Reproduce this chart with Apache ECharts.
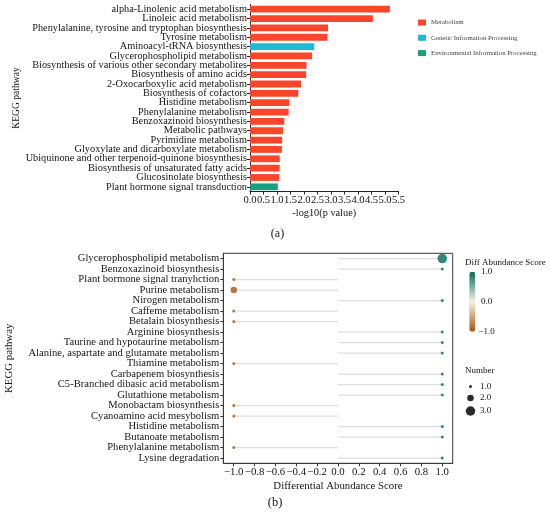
<!DOCTYPE html>
<html>
<head>
<meta charset="utf-8">
<style>
  html, body { margin: 0; padding: 0; background: #fff; }
  #main { width: 550px; height: 512px; }
</style>
<script src="https://cdn.jsdelivr.net/npm/echarts@6/dist/echarts.min.js"></script>
</head>
<body>
<div id="main"></div>
<script>
// ---- panel (a): KEGG enrichment bars
var pathwaysA = [
  'alpha-Linolenic acid metabolism',
  'Linoleic acid metabolism',
  'Phenylalanine, tyrosine and tryptophan biosynthesis',
  'Tyrosine metabolism',
  'Aminoacyl-tRNA biosynthesis',
  'Glycerophospholipid metabolism',
  'Biosynthesis of various other secondary metabolites',
  'Biosynthesis of amino acids',
  '2-Oxocarboxylic acid metabolism',
  'Biosynthesis of cofactors',
  'Histidine metabolism',
  'Phenylalanine metabolism',
  'Benzoxazinoid biosynthesis',
  'Metabolic pathways',
  'Pyrimidine metabolism',
  'Glyoxylate and dicarboxylate metabolism',
  'Ubiquinone and other terpenoid-quinone biosynthesis',
  'Biosynthesis of unsaturated fatty acids',
  'Glucosinolate biosynthesis',
  'Plant hormone signal transduction'
];
var logPA = [5.18, 4.55, 2.89, 2.87, 2.38, 2.30, 2.09, 2.08, 1.89, 1.79,
             1.45, 1.43, 1.27, 1.22, 1.19, 1.18, 1.10, 1.10, 1.08, 1.03];
var classA = [0, 0, 0, 0, 1, 0, 0, 0, 0, 0, 0, 0, 0, 0, 0, 0, 0, 0, 0, 2];
var classNames = ['Metabolism', 'Genetic Information Processing', 'Environmental Information Processing'];
var classColors = ['#f9462b', '#22b6d7', '#17a07f'];

// ---- panel (b): differential abundance lollipop
var pathwaysB = [
  'Glycerophospholipid metabolism',
  'Benzoxazinoid biosynthesis',
  'Plant bormone signal tranyhction',
  'Purine metabolism',
  'Nirogen metabolism',
  'Caffeme metabolism',
  'Betalain biosynthesis',
  'Arginine biosynthesis',
  'Taurine and hypotaurine metabolism',
  'Alanine, aspartate and glutamate metabolism',
  'Thiamine metabolism',
  'Carbapenem biosynthesis',
  'C5-Branched dibasic acid metabolism',
  'Glutathione metabolism',
  'Monobactam biosynthesis',
  'Cyanoamino acid mesybolism',
  'Histidine metabolism',
  'Butanoate metabolism',
  'Phenylalanine metabolism',
  'Lysine degradation'
];
var scoreB = [1, 1, -1, -1, 1, -1, -1, 1, 1, 1, -1, 1, 1, 1, -1, -1, 1, 1, -1, 1];
var numberB = [3, 1, 1, 2, 1, 1, 1, 1, 1, 1, 1, 1, 1, 1, 1, 1, 1, 1, 1, 1];
var ticksB = [-1.0, -0.8, -0.6, -0.4, -0.2, 0.0, 0.2, 0.4, 0.6, 0.8, 1.0];
var colorTicks = [1.0, 0.0, -1.0];
var numberTicks = [1.0, 2.0, 3.0];
var scoreColors = ['#a9560f', '#f7f2e2', '#04695d'];

var FONT = '"Liberation Serif", "DejaVu Serif", serif';
var INK = '#141414';

function dotSize(n) { return [0, 3, 6.5, 9.5][n]; }
function fmtMinus(v) { return v.toFixed(1).replace('-', '\u2212'); }

var chartDom = document.getElementById('main');
var myChart = echarts.init(chartDom, null, { renderer: 'canvas' });

// one stacked series per class so the legend gets its own entries
var barSeries = classNames.map(function (name, c) {
  return {
    name: name,
    type: 'bar',
    stack: 'kegg',
    xAxisIndex: 0,
    yAxisIndex: 0,
    barWidth: 6.8,
    itemStyle: { color: classColors[c] },
    data: logPA.map(function (v, i) { return classA[i] === c ? v : '-'; })
  };
});

// legend for panel (b), built from the tick arrays
var cbTop = 271.7, cbH = 60, cbLeft = 469.3;
var legendGraphics = [
  { type: 'text', left: 465, top: 258,
    style: { text: 'Diff Abundance Score', font: '9px ' + FONT, fill: INK } },
  { type: 'text', left: 465, top: 366.5,
    style: { text: 'Number', font: '9px ' + FONT, fill: INK } }
];
colorTicks.forEach(function (v) {
  var y = cbTop + (1 - v) / 2 * cbH;
  legendGraphics.push({ type: 'text', x: v < 0 ? 478.5 : 481, y: y,
    style: { text: fmtMinus(v), font: '9px ' + FONT, fill: INK, verticalAlign: 'middle' } });
  legendGraphics.push({ type: 'line', shape: { x1: 474, y1: y, x2: 475.5, y2: y },
    style: { stroke: '#fff', lineWidth: 0.8 } });
});
var numY = [386.5, 398, 411];
numberTicks.forEach(function (n, k) {
  legendGraphics.push({ type: 'circle', shape: { cx: 470.5, cy: numY[k], r: dotSize(n) / 2 },
    style: { fill: '#2b2b2b' } });
  legendGraphics.push({ type: 'text', x: 480, y: numY[k],
    style: { text: n.toFixed(1), font: '9px ' + FONT, fill: INK, verticalAlign: 'middle' } });
});
legendGraphics.push({ type: 'text', x: 277.5, y: 234,
  style: { text: '(a)', font: '12px ' + FONT, fill: INK, align: 'center', verticalAlign: 'middle' } });
legendGraphics.push({ type: 'text', x: 275, y: 502.5,
  style: { text: '(b)', font: '12.5px ' + FONT, fill: INK, align: 'center', verticalAlign: 'middle' } });

var option = {
  animation: false,
  textStyle: { fontFamily: FONT },
  grid: [
    { left: 250, top: 4.5, width: 148.5, height: 187 },
    { left: 223.3, top: 253.3, width: 229.4, height: 210,
      show: true, borderColor: '#3a3a3a', borderWidth: 1 }
  ],
  legend: {
    left: 418, top: 19, orient: 'vertical',
    padding: 0,
    itemWidth: 8, itemHeight: 6, itemGap: 8.3,
    icon: 'rect',
    data: classNames,
    textStyle: { fontSize: 6.8, color: '#444', fontFamily: FONT }
  },
  visualMap: {
    type: 'continuous',
    seriesIndex: 4,
    dimension: 0,
    min: -1, max: 1,
    left: cbLeft, top: cbTop,
    itemWidth: 6, itemHeight: cbH,
    padding: 0,
    calculable: false,
    hoverLink: false,
    text: null,
    inRange: { color: scoreColors }
  },
  xAxis: [
    {
      gridIndex: 0, type: 'value', min: 0, max: 5.5, interval: 0.5,
      name: '-log10(p value)', nameLocation: 'middle', nameGap: 17,
      nameTextStyle: { fontSize: 10.3, color: INK, fontFamily: FONT },
      axisLine: { show: true, lineStyle: { color: '#222', width: 1 } },
      axisTick: { show: true, length: 3, lineStyle: { color: '#222' } },
      axisLabel: { fontSize: 10.6, color: INK, margin: 3.5, fontFamily: FONT,
        formatter: function (v) { return v.toFixed(1); } },
      splitLine: { show: false }
    },
    {
      gridIndex: 1, type: 'value', min: -1.1, max: 1.1,
      name: 'Differential Abundance Score', nameLocation: 'middle', nameGap: 17,
      nameTextStyle: { fontSize: 10.8, color: INK, fontFamily: FONT },
      axisLine: { show: true, lineStyle: { color: '#3a3a3a', width: 1 } },
      axisTick: { show: true, length: 3, customValues: ticksB, lineStyle: { color: '#333' } },
      axisLabel: { fontSize: 10.8, color: INK, margin: 3.5, fontFamily: FONT, customValues: ticksB,
        formatter: function (v) { return fmtMinus(v); } },
      splitLine: { show: false }
    }
  ],
  yAxis: [
    {
      gridIndex: 0, type: 'category', inverse: true, data: pathwaysA,
      name: 'KEGG pathway', nameLocation: 'middle', nameRotate: 90, nameGap: 228,
      nameTextStyle: { fontSize: 9.6, color: INK, fontFamily: FONT },
      axisLine: { show: true, onZero: false, lineStyle: { color: '#222', width: 1 } },
      axisTick: { show: true, length: 3, alignWithLabel: true, lineStyle: { color: '#222' } },
      axisLabel: { fontSize: 10.3, color: INK, margin: 3, fontFamily: FONT, interval: 0 }
    },
    {
      gridIndex: 1, type: 'category', inverse: true, data: pathwaysB,
      name: 'KEGG pathway', nameLocation: 'middle', nameRotate: 90, nameGap: 209,
      nameTextStyle: { fontSize: 10.8, color: INK, fontFamily: FONT },
      axisLine: { show: true, onZero: false, lineStyle: { color: '#3a3a3a', width: 1 } },
      axisTick: { show: true, length: 3, alignWithLabel: true, lineStyle: { color: '#333' } },
      axisLabel: { fontSize: 10.6, color: INK, margin: 4, fontFamily: FONT, interval: 0 }
    }
  ],
  series: barSeries.concat([
    {
      name: 'stem',
      type: 'bar',
      xAxisIndex: 1,
      yAxisIndex: 1,
      barWidth: 1.3,
      silent: true,
      itemStyle: { color: '#dedede' },
      data: scoreB
    },
    {
      name: 'score',
      type: 'scatter',
      xAxisIndex: 1,
      yAxisIndex: 1,
      z: 3,
      symbolSize: function (d) { return dotSize(d[2]); },
      data: scoreB.map(function (v, i) { return [v, pathwaysB[i], numberB[i]]; })
    }
  ]),
  graphic: legendGraphics
};

option && myChart.setOption(option);
</script>
</body>
</html>
